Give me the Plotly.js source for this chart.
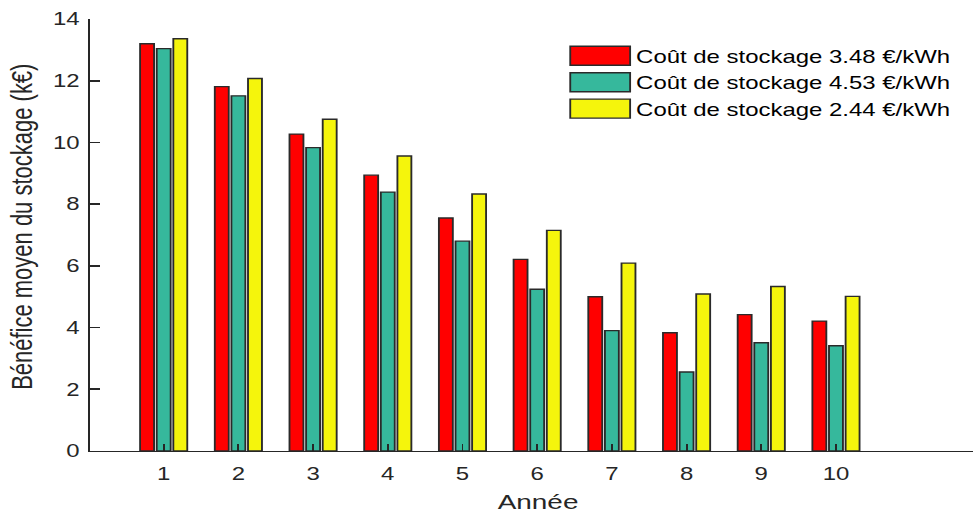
<!DOCTYPE html>
<html>
<head>
<meta charset="utf-8">
<script src="https://cdn.plot.ly/plotly-3.0.1.min.js"></script>
<style>
html,body{margin:0;padding:0;overflow:hidden;background:#fff}
#wrap{width:974px;height:512px;overflow:hidden;position:relative}
#chart{width:732px;height:512px;transform:scale(1.3306,1);transform-origin:0 0}
</style>
</head>
<body>
<div id="wrap"><div id="chart"></div></div>
<script>
// ---- data ----
const years = [1, 2, 3, 4, 5, 6, 7, 8, 9, 10];
const seriesNames = [
  "Coût de stockage 3.48 €/kWh",
  "Coût de stockage 4.53 €/kWh",
  "Coût de stockage 2.44 €/kWh"
];
const cost348 = [13.20, 11.81, 10.27, 8.94, 7.55, 6.21, 5.00, 3.83, 4.42, 4.21];
const cost453 = [13.04, 11.51, 9.83, 8.39, 6.80, 5.24, 3.90, 2.56, 3.51, 3.41];
const cost244 = [13.36, 12.07, 10.75, 9.56, 8.33, 7.15, 6.09, 5.09, 5.33, 5.01];
const yTicks = [0, 2, 4, 6, 8, 10, 12, 14];
const xTitle = "Année";
const yTitle = "Bénéfice moyen du stockage (k€)";
const colors = ["#ff0000", "#36b89c", "#f5f50c"];

const seriesValues = [cost348, cost453, cost244];
const ink = "#262626";
const fontFam = "Liberation Sans, Arial, Helvetica, sans-serif";

const traces = seriesValues.map((vals, i) => ({
  type: "bar",
  x: years,
  y: vals,
  name: seriesNames[i],
  marker: { color: colors[i], line: { color: "#2a2a2a", width: 1.4 } },
  hoverinfo: "x+y+name"
}));

const layout = {
  width: 732,
  height: 512,
  margin: { l: 68, r: 1, t: 19, b: 61 },
  paper_bgcolor: "#ffffff",
  plot_bgcolor: "#ffffff",
  font: { family: fontFam, color: ink, size: 17 },
  barmode: "group",
  bargap: 0.333,
  bargroupgap: 0.16,
  showlegend: true,
  legend: {
    x: 0.528, xanchor: "left",
    y: 0.957, yanchor: "top",
    font: { family: fontFam, size: 18, color: "#000" },
    bgcolor: "rgba(255,255,255,0)",
    borderwidth: 0,
    itemwidth: 50,
    tracegroupgap: 0
  },
  xaxis: {
    range: [0.02, 11.83],
    tickmode: "array",
    tickvals: years,
    ticktext: years.map(String),
    ticks: "inside",
    ticklen: 7,
    tickwidth: 1.4,
    tickcolor: ink,
    showline: true,
    linecolor: ink,
    linewidth: 1.4,
    showgrid: false,
    zeroline: false,
    ticklabelstandoff: 6,
    tickfont: { size: 18, color: ink }
  },
  yaxis: {
    range: [0, 14],
    tickmode: "array",
    tickvals: yTicks,
    ticktext: yTicks.map(String),
    ticks: "inside",
    ticklen: 7,
    tickwidth: 1.6,
    tickcolor: ink,
    showline: true,
    linecolor: ink,
    linewidth: 1.6,
    showgrid: false,
    zeroline: false,
    ticklabelstandoff: 3,
    tickfont: { size: 18, color: ink }
  },
  annotations: [
    {
      text: xTitle, xref: "paper", yref: "paper",
      x: 0.508, y: -0.116, xanchor: "center", yanchor: "middle",
      showarrow: false, font: { size: 21, color: ink }
    },
    {
      text: yTitle, xref: "paper", yref: "paper", textangle: -90,
      x: -0.0777, y: 0.5197, xanchor: "center", yanchor: "middle",
      showarrow: false, font: { size: 22, color: ink }
    }
  ]
};

Plotly.newPlot("chart", traces, layout, { displayModeBar: false, staticPlot: true }).then(() => {
  document.querySelectorAll("#chart .legend .legendpoints path").forEach(p => {
    p.setAttribute("d", "M-19.5,9.5H25.5V-9.5H-19.5Z");
  });
});
</script>
</body>
</html>
